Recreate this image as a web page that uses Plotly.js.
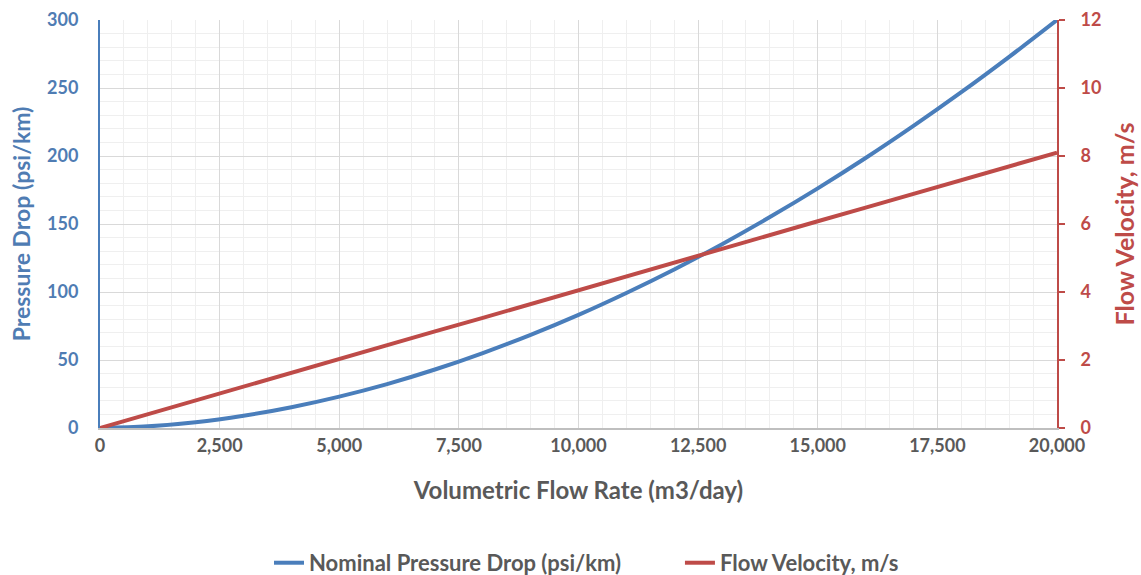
<!DOCTYPE html>
<html>
<head>
<meta charset="utf-8">
<script src="https://cdn.plot.ly/plotly-3.0.1.min.js"></script>
<style>html,body{margin:0;padding:0;background:#fff;}#chart{width:1141px;height:575px;}</style>
</head>
<body>
<div id="chart"></div>
<script>
const flowRate = [0,1000,2000,3000,4000,5000,6000,7000,8000,9000,10000,11000,12000,13000,14000,15000,16000,17000,18000,19000,20000];
const pressureDrop = [0,1.2,4.2,9.0,15.3,23.1,32.3,43.0,55.1,68.5,83.2,99.3,116.6,135.2,155.1,176.2,198.5,222.1,246.9,272.9,300];
const flowVelocity = [0,0.41,0.81,1.22,1.62,2.03,2.43,2.84,3.24,3.65,4.05,4.46,4.86,5.27,5.67,6.08,6.48,6.89,7.29,7.70,8.1];
const seriesNames = ["Nominal Pressure Drop (psi/km)", "Flow Velocity, m/s"];

const BLUE = "#4a7ebb", RED = "#be4b48", BLUE_TXT = "#4f7cb3", RED_TXT = "#be4b48", GRAY_TXT = "#595959";
const FONT = "Lato, 'Open Sans', sans-serif";

const traces = [
  {x: flowRate, y: pressureDrop, name: seriesNames[0], type: "scatter", mode: "lines",
   line: {color: BLUE, width: 4, shape: "spline"}, yaxis: "y", legend: "legend"},
  {x: flowRate, y: flowVelocity, name: seriesNames[1], type: "scatter", mode: "lines",
   line: {color: RED, width: 4}, yaxis: "y2", legend: "legend2"}
];

const legendFont = {family: FONT, size: 22, color: GRAY_TXT, weight: "bold"};

const layout = {
  width: 1141, height: 575,
  margin: {l: 100, r: 84, t: 20, b: 147, autoexpand: false},
  paper_bgcolor: "#fff", plot_bgcolor: "#fff",
  font: {family: FONT, size: 18, color: GRAY_TXT},
  showlegend: true,
  legend: {orientation: "h", xref: "paper", x: 0.1766, xanchor: "left",
           yref: "container", y: 0.021, yanchor: "middle", font: legendFont},
  legend2: {orientation: "h", xref: "paper", x: 0.606, xanchor: "left",
           yref: "container", y: 0.021, yanchor: "middle", font: legendFont},
  xaxis: {
    range: [0, 20000], dtick: 2500, tickformat: ",d",
    showgrid: true, gridcolor: "#d9d9d9", gridwidth: 1,
    minor: {dtick: 500, showgrid: true, gridcolor: "#efefef", gridwidth: 1},
    showline: true, linecolor: "#bfbfbf", linewidth: 2,
    zeroline: false, ticks: "", ticklabelstandoff: 0, automargin: false,
    tickfont: {family: FONT, size: 18, color: GRAY_TXT, weight: "bold"},
    title: {text: "Volumetric Flow Rate (m3/day)", standoff: 28,
            font: {family: FONT, size: 24, color: GRAY_TXT, weight: "bold"}}
  },
  yaxis: {
    range: [0, 300], dtick: 50,
    showgrid: true, gridcolor: "#d9d9d9", gridwidth: 1,
    minor: {dtick: 10, showgrid: true, gridcolor: "#efefef", gridwidth: 1},
    showline: true, linecolor: BLUE, linewidth: 2,
    zeroline: false, ticks: "", ticklabelstandoff: 16, automargin: false,
    tickfont: {family: FONT, size: 18, color: BLUE_TXT, weight: "bold"},
    title: {text: "Pressure Drop (psi/km)", standoff: 10,
            font: {family: FONT, size: 23, color: BLUE_TXT, weight: "bold"}}
  },
  yaxis2: {
    range: [0, 12], dtick: 2, overlaying: "y", side: "right",
    showgrid: false, zeroline: false, automargin: false,
    showline: true, linecolor: RED, linewidth: 2,
    ticks: "outside", ticklen: 6, tickcolor: RED, tickwidth: 2, ticklabelstandoff: 12,
    tickfont: {family: FONT, size: 18, color: RED_TXT, weight: "bold"},
    title: {text: "Flow Velocity, m/s", standoff: 16,
            font: {family: FONT, size: 25, color: RED_TXT, weight: "bold"}}
  }
};

Plotly.newPlot("chart", traces, layout, {displayModeBar: false, staticPlot: true});
</script>
</body>
</html>
